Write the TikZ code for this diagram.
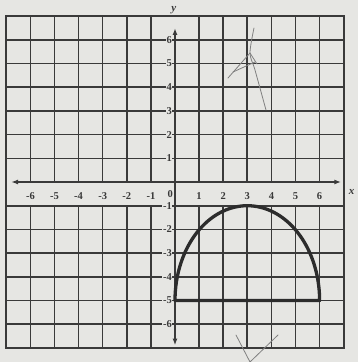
\documentclass[tikz,border=0pt]{standalone}
\usepackage{fontspec}
\setmainfont{Liberation Serif}
\usetikzlibrary{arrows.meta}
\definecolor{bgc}{HTML}{E6E6E3}
\definecolor{ink}{HTML}{3A3A3A}
\definecolor{pencil}{HTML}{808080}
\tikzset{
  gridline/.style={ink, line width=1.6pt},
  border/.style={ink, line width=2.2pt},
  axisline/.style={ink, line width=1.4pt, {Latex[length=7pt,width=5pt]}-{Latex[length=7pt,width=5pt]}},
  curveline/.style={draw=ink!75!black, line width=3.3pt, line join=round},
  numlab/.style={font=\fontsize{10.5}{11}\selectfont\bfseries, text=ink, inner sep=0.6pt, fill=bgc},
  axlab/.style={font=\fontsize{11}{12}\selectfont\itshape\bfseries, text=ink, inner sep=0pt},
  pencilmark/.style={pencil, line width=0.8pt, line cap=round}
}
\begin{document}
\begin{tikzpicture}[x=24.1pt,y=23.7pt]
\useasboundingbox (-175pt,-180pt) rectangle (183pt,182pt);
\fill[bgc] (-175pt,-180pt) rectangle (183pt,182pt);
% horizontal grid lines
\foreach \j in {1,...,6,-1,-2,-3,-4,-5,-6} {
  \draw[gridline] (-7,\j) -- (7,\j);
}
% vertical grid lines (white band for x labels between y=0 and y=-1)
\foreach \i in {-6,...,-1,1,2,3,4,5,6} {
  \draw[gridline] (\i,7) -- (\i,0);
  \draw[gridline] (\i,-1) -- (\i,-7);
}
% border
\draw[border] (-7,-7) rectangle (7,7);
% axes
\coordinate (xl) at (-6.8,0);
\coordinate (xr) at (6.9,0);
\coordinate (yb) at (0,-6.9);
\coordinate (yt) at (0,6.5);
\draw[axisline] (xl) -- (xr);
\draw[axisline] (yb) -- (yt);
\node[axlab] (ylab) at (-0.05,7.27) {y};
\node[axlab] (xlab) at (7.33,-0.42) {x};
% x labels
\foreach \i in {-6,...,-1} {
  \node[numlab] (xn\i) at (\i,-0.6) {\i};
}
\foreach \i in {1,...,6} {
  \node[numlab] (xp\i) at (\i,-0.6) {\i};
}
\node[numlab] (x0) at (-0.2,-0.5) {0};
% y labels
\foreach \j in {1,...,6} {
  \node[numlab, anchor=east] (yp\j) at (-0.1,\j) {\j};
}
\foreach \j in {-1,-2,-3,-4,-5,-6} {
  \node[numlab, anchor=east] (yn\j) at (-0.1,\j) {\j};
}
% semi-ellipse
\draw[curveline] plot[domain=180:0, samples=80] ({3+3*cos(\x)},{-5+4*sin(\x)}) -- cycle;
% pencil marks
\draw[pencilmark] plot[smooth] coordinates {(79pt,154pt) (75pt,129pt) (80pt,112pt) (91pt,72pt)};
\draw[pencilmark] (53pt,104pt) -- (75pt,129pt) -- (82pt,118pt);
\draw[pencilmark] (58pt,110pt) -- (80pt,120pt);
\draw[pencilmark] (61pt,-153pt) -- (75pt,-180pt) -- (103pt,-153pt);
\end{tikzpicture}
\end{document}
